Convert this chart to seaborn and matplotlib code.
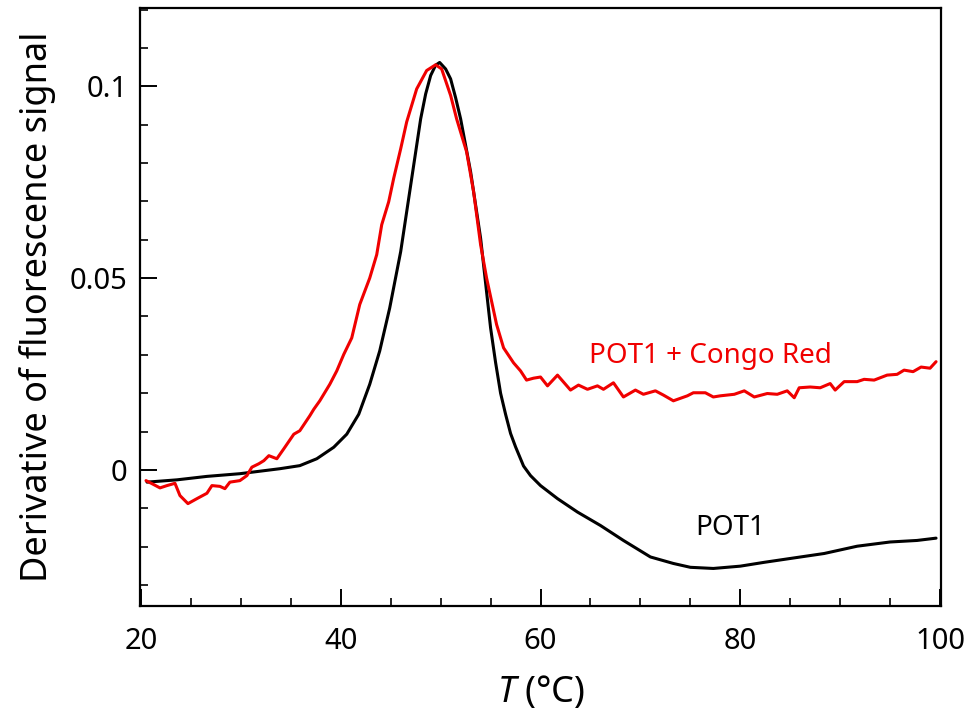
import numpy as np
import pandas as pd
import seaborn as sns
import matplotlib
matplotlib.use("Agg")
import matplotlib.pyplot as plt
from matplotlib.ticker import MultipleLocator, FuncFormatter

# values
temp_pot1 = [20.6, 23.6, 26.6, 29.9, 33.9, 35.9, 37.6, 39.3, 40.6, 41.8, 42.9, 43.9,
             44.9, 46.0, 47.0, 48.0, 48.5, 49.0, 49.5, 49.9, 50.5, 51.0, 51.5, 52.0,
             53.0, 54.0, 55.0, 55.5, 56.0, 56.5, 57.0, 57.5, 58.3, 59.0, 60.0, 61.7,
             63.7, 66.0, 68.3, 71.0, 73.3, 75.0, 77.3, 80.0, 82.4, 85.0, 88.4, 91.7,
             95.0, 97.7, 99.6]
deriv_pot1 = [-0.0032, -0.0026, -0.0017, -0.0010, 0.0003, 0.0011, 0.0029, 0.0059,
              0.0093, 0.0145, 0.0223, 0.0310, 0.0422, 0.0569, 0.0742, 0.0915, 0.0980,
              0.1028, 0.1055, 0.1062, 0.1045, 0.1019, 0.0970, 0.0915, 0.0777, 0.0604,
              0.0370, 0.0280, 0.0200, 0.0145, 0.0095, 0.0060, 0.0010, -0.0015, -0.0041,
              -0.0075, -0.0110, -0.0145, -0.0184, -0.0227, -0.0244, -0.0254, -0.0257,
              -0.0251, -0.0241, -0.0231, -0.0218, -0.0199, -0.0188, -0.0184, -0.0178]

temp_congo = [20.5, 21.1, 21.9, 22.6, 23.4, 23.9, 24.7, 25.6, 26.6, 27.1, 27.9, 28.4,
              28.9, 29.9, 30.6, 31.1, 31.8, 32.3, 32.8, 33.6, 34.3, 35.3, 35.9, 36.9,
              37.3, 37.9, 38.9, 39.6, 40.3, 41.1, 41.9, 42.9, 43.6, 44.1, 44.8, 45.3,
              46.0, 46.6, 47.6, 48.6, 49.5, 50.1, 51.0, 51.6, 52.6, 53.3, 54.0, 54.6,
              55.6, 56.3, 57.3, 58.0, 58.6, 59.3, 60.0, 60.7, 61.7, 63.0, 63.8, 64.7,
              65.7, 66.3, 67.3, 68.3, 69.5, 70.3, 71.5, 72.3, 73.3, 74.7, 75.3, 76.5,
              77.3, 78.0, 79.4, 80.4, 81.4, 82.7, 83.7, 84.7, 85.4, 85.9, 87.0, 88.0,
              89.0, 89.5, 90.4, 91.7, 92.4, 93.4, 94.7, 95.7, 96.4, 97.3, 98.1, 99.0,
              99.6]
deriv_congo = [-0.0028, -0.0036, -0.0047, -0.0041, -0.0035, -0.0067, -0.0088, -0.0075,
               -0.0061, -0.0041, -0.0043, -0.0049, -0.0032, -0.0028, -0.0015, 0.0007,
               0.0016, 0.0024, 0.0037, 0.0029, 0.0055, 0.0093, 0.0102, 0.0141, 0.0158,
               0.0180, 0.0223, 0.0258, 0.0301, 0.0344, 0.0431, 0.0500, 0.0561, 0.0639,
               0.0699, 0.0760, 0.0837, 0.0907, 0.0993, 0.1041, 0.1056, 0.1045, 0.0976,
               0.0915, 0.0829, 0.0725, 0.0587, 0.0500, 0.0379, 0.0318, 0.0279, 0.0258,
               0.0234, 0.0239, 0.0242, 0.0219, 0.0247, 0.0208, 0.0221, 0.0210, 0.0219,
               0.0210, 0.0227, 0.0190, 0.0208, 0.0197, 0.0206, 0.0195, 0.0180, 0.0193,
               0.0201, 0.0201, 0.0190, 0.0193, 0.0197, 0.0206, 0.0190, 0.0199, 0.0197,
               0.0206, 0.0188, 0.0214, 0.0216, 0.0214, 0.0225, 0.0208, 0.0230, 0.0230,
               0.0236, 0.0234, 0.0247, 0.0249, 0.0260, 0.0256, 0.0268, 0.0265, 0.0282]

df = pd.concat([
    pd.DataFrame({"T": temp_pot1, "d": deriv_pot1, "sample": "POT1"}),
    pd.DataFrame({"T": temp_congo, "d": deriv_congo, "sample": "POT1 + Congo Red"}),
])

sns.set_style("ticks")
plt.rcParams["font.family"] = ["Noto Sans", "DejaVu Sans"]
plt.rcParams["mathtext.fontset"] = "custom"
plt.rcParams["mathtext.it"] = "Noto Sans:italic"
plt.rcParams["text.color"] = "black"
plt.rcParams["axes.labelcolor"] = "black"
plt.rcParams["xtick.color"] = "black"
plt.rcParams["ytick.color"] = "black"
plt.rcParams["axes.edgecolor"] = "black"

fig = plt.figure(figsize=(9.77, 7.13), dpi=100)
ax = fig.add_axes([0.1433, 0.150, 0.8199, 0.8388])

red = "#f00000"
sns.lineplot(data=df, x="T", y="d", hue="sample", sort=False,
             palette={"POT1": "black", "POT1 + Congo Red": red},
             linewidth=2.2, legend=False, ax=ax)

ax.set_xlim(19.9, 100.1)
ax.set_ylim(-0.0355, 0.1204)
ax.xaxis.set_major_locator(MultipleLocator(20))
ax.xaxis.set_minor_locator(MultipleLocator(5))
ax.yaxis.set_major_locator(MultipleLocator(0.05))
ax.yaxis.set_minor_locator(MultipleLocator(0.01))
ax.yaxis.set_major_formatter(FuncFormatter(lambda v, p: "0" if abs(v) < 1e-9 else f"{v:g}"))

ax.tick_params(which="major", direction="in", length=12, width=1.4, labelsize=21, pad=9)
ax.tick_params(which="minor", direction="in", length=6, width=1.2)
ax.tick_params(axis="x", which="major", pad=15)
for s in ax.spines.values():
    s.set_linewidth(1.6)
    s.set_visible(True)

ax.set_xlabel(r"$T$ (°C)", fontsize=26, labelpad=13)
ax.set_ylabel("Derivative of fluorescence signal", fontsize=26, labelpad=10)

ax.text(77.0, 0.0297, "POT1 + Congo Red", color=red, fontsize=20,
        ha="center", va="center")
ax.text(79.0, -0.0152, "POT1", color="black", fontsize=20, ha="center", va="center")

fig.savefig("out.png", dpi=100)
